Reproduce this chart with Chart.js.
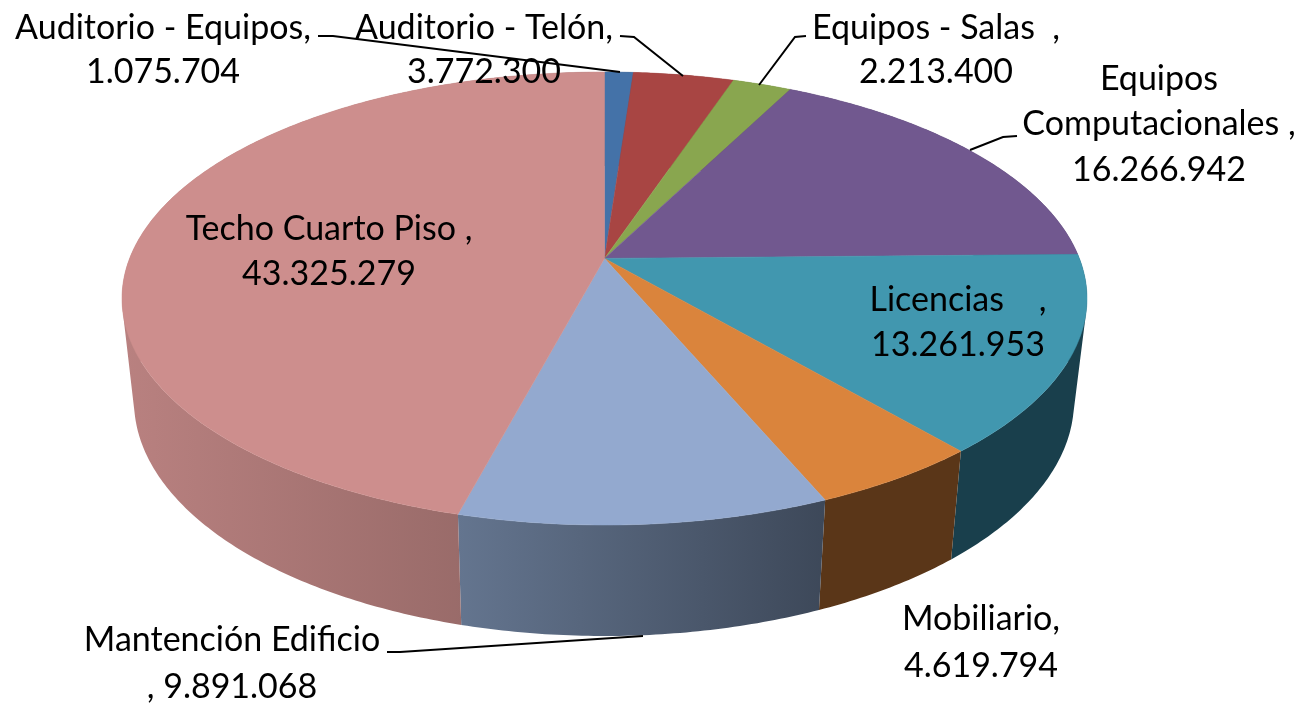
<!DOCTYPE html>
<html><head><meta charset="utf-8">
<style>html,body{margin:0;padding:0;background:#fff}#w{width:1302px;height:703px}</style>
<script src="https://cdn.jsdelivr.net/npm/chart.js@4"></script>
</head><body><div id="w"><canvas id="c" width="1302" height="703"></canvas></div>
<script>
const categories = ["Auditorio - Equipos,","Auditorio - Telón,","Equipos - Salas  ,","Equipos Computacionales ,","Licencias    ,","Mobiliario,","Mantención Edificio",
"Techo Cuarto Piso ,"];
const values = [1075704,3772300,2213400,16266942,13261953,4619794,9891068,43325279];
const topColors = ["#4472a8","#a84543","#89a64f","#71588f","#4197af","#da843c","#93a9cf","#cd8e8d"];
const wallStops = [["#2c4a6e","#2c4a6e"],["#6e2d2b","#6e2d2b"],["#596c33","#596c33"],["#49395d","#49395d"],
  ["#193f4c","#193f4c"],["#5a3618","#5a3618"],["#64758f","#3d4859"],["#b98180","#8c6260"]];
const labelLayout = [
 {cx:163,y:[28,72]},{cx:484,y:[28,72]},{cx:936,y:[28,72]},{cx:1159,y:[79,124,170]},
 {cx:958,y:[300,345]},{cx:981,y:[619,666]},{cx:232,y:[640,687]},{cx:329,y:[229,274]}];
const leaders = [
 [[318,36],[333,36],[620,72]],[[620,36],[634,37],[683,76]],[[806,36],[795,37],[759,85]],
 [[1017,136],[1003,137],[970,150]],null,null,[[387,652],[400,652],[643,636]],null];
const topDisc = {cx:604.5,cy:298.5,rx:482.5,ry:226.5};
const botDisc = {cx:604,cy:401,rx:470,ry:235};
const tilt = -0.177;
const fontSpec = '34px Lato';

function proj(d,a){
  const u=Math.cos(a), v=Math.sin(a), k=1+tilt*v, s=Math.sqrt(1-tilt*tilt);
  return [d.cx+d.rx*u*s/k, d.cy+d.ry*(v+tilt)/k];
}
function fmt(n){return String(n).replace(/\B(?=(\d{3})+$)/g,'.');}
function linesFor(i){
  const v=fmt(values[i]);
  if(i===3) return ["Equipos","Computacionales ,",v];
  if(i===6) return [categories[i],", "+v];
  return [categories[i],v];
}
const pie3d={
 id:'pie3d',
 beforeDatasetDraw(chart){
  const ctx=chart.ctx, arcs=chart.getDatasetMeta(0).data;
  ctx.save();
  arcs.forEach((arc,i)=>{
    const a0=arc.startAngle,a1=arc.endAngle,n=Math.max(4,Math.ceil((a1-a0)*90));
    const tp=[],bp=[];
    for(let k=0;k<=n;k++){const a=a0+(a1-a0)*k/n;tp.push(proj(topDisc,a));bp.push(proj(botDisc,a));}
    const xs=tp.concat(bp).map(p=>p[0]);
    const g=ctx.createLinearGradient(Math.min(...xs),0,Math.max(...xs),0);
    g.addColorStop(0,wallStops[i][0]);g.addColorStop(1,wallStops[i][1]);
    ctx.fillStyle=g;ctx.beginPath();
    for(let k=0;k<n;k++){
      let q=[tp[k],tp[k+1],bp[k+1],bp[k]],s=0;
      for(let j=0;j<4;j++){const P=q[j],Q=q[(j+1)%4];s+=P[0]*Q[1]-Q[0]*P[1];}
      if(s<0)q.reverse();
      ctx.moveTo(q[0][0],q[0][1]);for(let j=1;j<4;j++)ctx.lineTo(q[j][0],q[j][1]);ctx.closePath();
    }
    ctx.fill();
  });
  const ap=[topDisc.cx,topDisc.cy+topDisc.ry*tilt];
  arcs.forEach((arc,i)=>{
    const a0=arc.startAngle,a1=arc.endAngle,n=Math.max(4,Math.ceil((a1-a0)*90));
    ctx.beginPath();ctx.moveTo(ap[0],ap[1]);
    for(let k=0;k<=n;k++){const p=proj(topDisc,a0+(a1-a0)*k/n);ctx.lineTo(p[0],p[1]);}
    ctx.closePath();ctx.fillStyle=topColors[i];ctx.fill();
    ctx.strokeStyle=topColors[i];ctx.lineWidth=.5;ctx.stroke();
  });
  ctx.restore();
  return false;
 },
 afterDraw(chart){
  const ctx=chart.ctx;ctx.save();
  ctx.strokeStyle='#000';ctx.lineWidth=2;
  leaders.forEach(l=>{if(!l)return;ctx.beginPath();l.forEach((p,j)=>j?ctx.lineTo(p[0],p[1]):ctx.moveTo(p[0],p[1]));ctx.stroke();});
  ctx.fillStyle='#000';ctx.font=fontSpec;ctx.textAlign='center';ctx.textBaseline='middle';
  labelLayout.forEach((L,i)=>{linesFor(i).forEach((t,j)=>ctx.fillText(t,L.cx,L.y[j]));});
  ctx.restore();
 }
};
new Chart(document.getElementById('c'),{
 type:'pie',
 data:{labels:categories,datasets:[{data:values,backgroundColor:topColors,borderWidth:0}]},
 options:{responsive:false,animation:false,events:[],rotation:0,plugins:{legend:{display:false},tooltip:{enabled:false}}},
 plugins:[pie3d]
});
</script></body></html>
